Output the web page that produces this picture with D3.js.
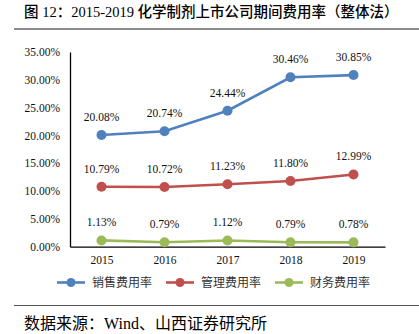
<!DOCTYPE html>
<html>
<head>
<meta charset="utf-8">
<script src="https://cdn.jsdelivr.net/npm/d3@7"></script>
<style>
  html, body { margin: 0; padding: 0; background: #fff; }
  svg text { font-family: "Liberation Serif", "Noto Sans CJK SC", serif; }
</style>
</head>
<body>
<div id="chart"></div>
<script>
// 期间费用率（整体法）
const years = ['2015', '2016', '2017', '2018', '2019'];
const salesRate = [20.08, 20.74, 24.44, 30.46, 30.85];
const adminRate = [10.79, 10.72, 11.23, 11.80, 12.99];
const financeRate = [1.13, 0.79, 1.12, 0.79, 0.78];
const yTicks = [0, 5, 10, 15, 20, 25, 30, 35];
const seriesNames = ['销售费用率', '管理费用率', '财务费用率'];

const series = [
  { name: seriesNames[0], values: salesRate, color: '#4F81BD' },
  { name: seriesNames[1], values: adminRate, color: '#C0504D' },
  { name: seriesNames[2], values: financeRate, color: '#9BBB59' }
];

const width = 419, height = 334;
const margin = { top: 52, right: 34, bottom: 87, left: 70 };

const svg = d3.select('#chart').append('svg')
  .attr('width', width)
  .attr('height', height);

// header & footer
const title = svg.append('text')
  .attr('x', 24).attr('y', 17)
  .attr('font-size', 14.5)
  .attr('fill', '#000');
title.append('tspan').attr('font-weight', 500).text('图 ');
title.append('tspan').text('12');
title.append('tspan').attr('font-weight', 500).text('：');
title.append('tspan').text('2015-2019 ');
title.append('tspan').attr('font-weight', 500).text('化学制剂上市公司期间费用率（整体法）');

svg.append('line')
  .attr('x1', 14).attr('x2', width)
  .attr('y1', 29).attr('y2', 29)
  .attr('stroke', '#8c8c8c').attr('stroke-width', 2);

svg.append('line')
  .attr('x1', 14).attr('x2', width)
  .attr('y1', 305.5).attr('y2', 305.5)
  .attr('stroke', '#555').attr('stroke-width', 1);

svg.append('text')
  .attr('x', 24).attr('y', 329)
  .attr('font-size', 16)
  .attr('fill', '#000')
  .text('数据来源：Wind、山西证券研究所');

// scales
const x = d3.scalePoint()
  .domain(years)
  .range([margin.left, width - margin.right])
  .padding(0.5);

const y = d3.scaleLinear()
  .domain([0, 35])
  .range([height - margin.bottom - 0.3, margin.top]);

// axes
const xAxis = svg.append('g')
  .attr('transform', `translate(0,${y(0)})`)
  .call(d3.axisBottom(x).tickSize(0).tickPadding(9));
xAxis.select('.domain').attr('stroke', '#000').attr('stroke-width', 1.3);
xAxis.selectAll('text').attr('font-size', 11.5).attr('fill', '#111')
  .attr('font-family', '"Liberation Serif", serif');

const yAxis = svg.append('g')
  .attr('transform', `translate(${margin.left},0)`)
  .call(d3.axisLeft(y).tickValues(yTicks).tickSize(0).tickPadding(10)
    .tickFormat(d => d.toFixed(2) + '%'));
yAxis.select('.domain').attr('stroke', '#000').attr('stroke-width', 1.3);
yAxis.selectAll('text').attr('font-size', 11.5).attr('fill', '#111')
  .attr('font-family', '"Liberation Serif", serif');

// lines, markers, value labels
const line = d3.line()
  .x((d, i) => x(years[i]))
  .y(d => y(d));

series.forEach(s => {
  const g = svg.append('g');
  g.append('path')
    .datum(s.values)
    .attr('fill', 'none')
    .attr('stroke', s.color)
    .attr('stroke-width', 2.6)
    .attr('d', line);
  g.selectAll('circle')
    .data(s.values)
    .join('circle')
    .attr('cx', (d, i) => x(years[i]))
    .attr('cy', d => y(d))
    .attr('r', 5)
    .attr('fill', s.color);
  g.selectAll('text')
    .data(s.values)
    .join('text')
    .attr('x', (d, i) => x(years[i]))
    .attr('y', d => y(d) - 14)
    .attr('text-anchor', 'middle')
    .attr('font-size', 11.5)
    .attr('fill', '#111')
    .text(d => d.toFixed(2) + '%');
});

// legend
const legendX = [57, 166, 275];
const legend = svg.append('g').attr('transform', 'translate(0,282.5)');
series.forEach((s, i) => {
  const lg = legend.append('g').attr('transform', `translate(${legendX[i]},0)`);
  lg.append('line')
    .attr('x1', 0).attr('x2', 28)
    .attr('stroke', s.color).attr('stroke-width', 2.6);
  lg.append('circle').attr('cx', 14).attr('r', 4.5).attr('fill', s.color);
  lg.append('text')
    .attr('x', 35).attr('y', 4.5)
    .attr('font-size', 12)
    .attr('fill', '#333')
    .text(s.name);
});
</script>
</body>
</html>
